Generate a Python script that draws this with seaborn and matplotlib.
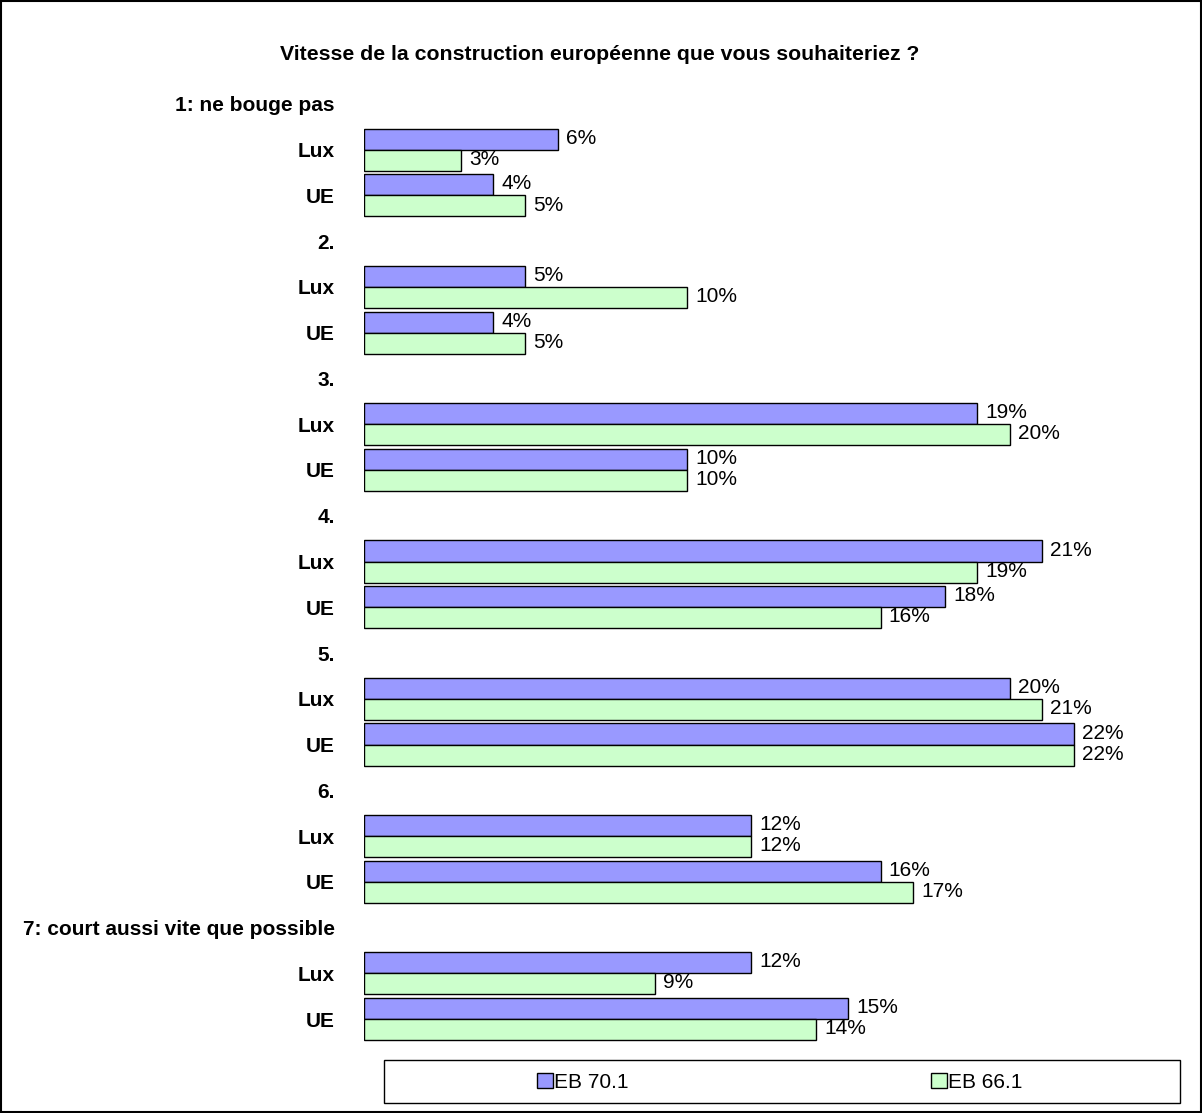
import matplotlib
matplotlib.use("Agg")
import matplotlib.pyplot as plt
from matplotlib.patches import Rectangle, Patch
import pandas as pd
import seaborn as sns

# Answer categories (1 = does not move ... 7 = runs as fast as possible)
groups = ["1: ne bouge pas", "2.", "3.", "4.", "5.", "6.", "7: court aussi vite que possible"]
regions = ["Lux", "UE"]
series = ["EB 70.1", "EB 66.1"]

# Percentages, per group: [Lux, UE]
eb70 = [[6, 4], [5, 4], [19, 10], [21, 18], [20, 22], [12, 16], [12, 15]]
eb66 = [[3, 5], [10, 5], [20, 10], [19, 16], [21, 22], [12, 17], [9, 14]]

colors = {"EB 70.1": "#9999FF", "EB 66.1": "#CCFFCC"}

title = "Vitesse de la construction européenne que vous souhaiteriez ?"

# Build the slot order: a header slot then one slot per region
slots, slot_labels = [], []
rows = []
for gi, g in enumerate(groups):
    slots.append(f"h{gi}")
    slot_labels.append(g)
    for ri, r in enumerate(regions):
        key = f"{gi}|{r}"
        slots.append(key)
        slot_labels.append(r)
        rows.append({"slot": key, "serie": series[0], "value": eb70[gi][ri]})
        rows.append({"slot": key, "serie": series[1], "value": eb66[gi][ri]})
df = pd.DataFrame(rows)

sns.set_theme(style="white", rc={"text.color": "black", "ytick.color": "black",
                                 "ytick.labelcolor": "black"})
plt.rcParams["font.family"] = ["Liberation Sans", "DejaVu Sans"]

W, H = 1202, 1113
fig = plt.figure(figsize=(W / 100, H / 100), dpi=100)
ax_left, ax_right = 364 / W, 1184 / W
ax_top, ax_bottom = 1 - 81 / H, 1 - 1042 / H
ax = fig.add_axes([ax_left, ax_bottom, ax_right - ax_left, ax_top - ax_bottom])

sns.barplot(data=df, y="slot", x="value", hue="serie", order=slots,
            hue_order=series, palette=colors, orient="h", width=0.92,
            edgecolor="black", linewidth=1.0, saturation=1, legend=False, ax=ax)

ax.set_xlim(0, 25.4)
ax.set_ylim(len(slots) - 0.5, -0.5)
for s in ax.spines.values():
    s.set_visible(False)
ax.set_xticks([])
ax.set_xlabel("")
ax.set_ylabel("")
ax.set_yticks(range(len(slots)))
ax.set_yticklabels(slot_labels, fontsize=15, fontweight="bold", color="black")
ax.tick_params(axis="y", length=0, pad=21)

# Value labels at the end of each bar
for cont in ax.containers:
    for bar in cont:
        w = bar.get_width()
        if w != w or w == 0:
            continue
        ax.text(w + 0.25, bar.get_y() + bar.get_height() / 2 - 0.02, f"{w:.0f}%",
                va="center", ha="left", fontsize=15, color="black")

fig.text(600 / W, 1 - 55 / H, title, ha="center", va="center",
         fontsize=15.3, fontweight="bold", color="black")

# Legend box with two entries
fig.patches.append(Rectangle((384 / W, 1 - 1103 / H), (1180 - 384) / W, 43 / H,
                             transform=fig.transFigure, fill=False,
                             edgecolor="black", linewidth=1))
for name, xpos in [(series[0], 537 / W), (series[1], 931 / W)]:
    h = Patch(facecolor=colors[name], edgecolor="black", linewidth=1)
    fig.legend([h], [name], loc="center left", bbox_to_anchor=(xpos, 1 - 1082 / H),
               frameon=False, fontsize=15, handlelength=0.75, handleheight=0.75,
               handletextpad=0.05, borderaxespad=0, borderpad=0)

# Outer frame around the figure
fig.patches.append(Rectangle((0.0005, 0.0005), 0.999, 0.999, transform=fig.transFigure,
                             fill=False, edgecolor="black", linewidth=1.5))

fig.savefig("out.png", dpi=100)
